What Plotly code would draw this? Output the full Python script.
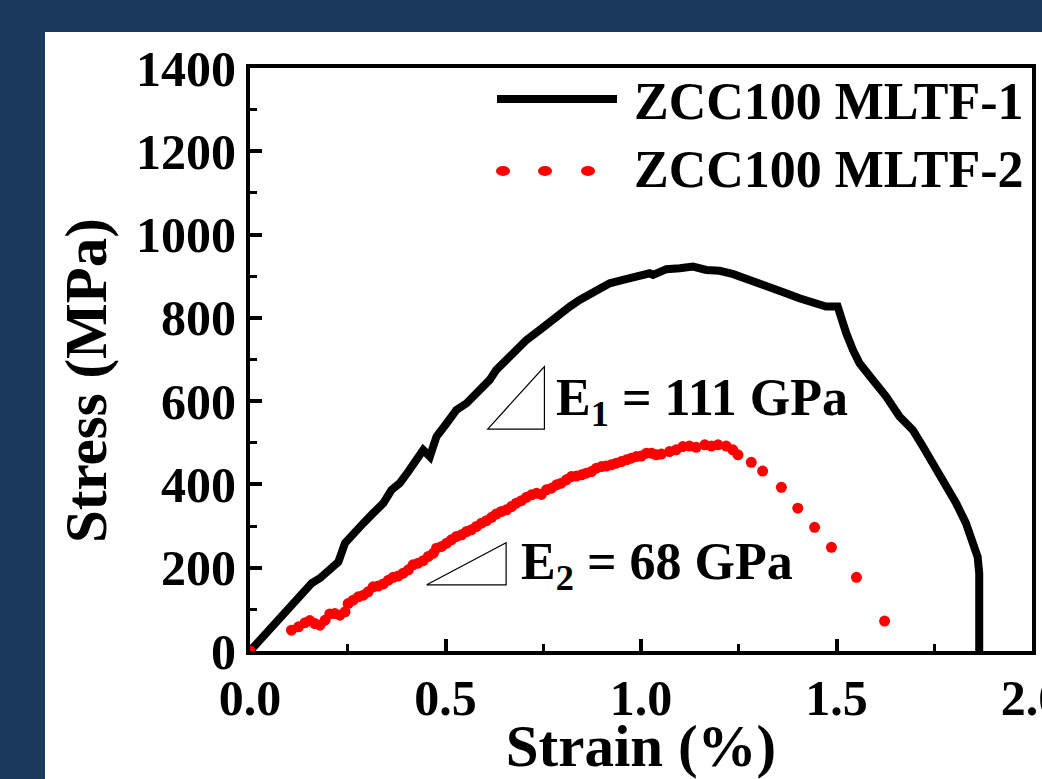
import plotly.graph_objects as go

# ---------------- data ----------------
strain_1 = [0.0, 0.119, 0.136, 0.158, 0.179, 0.204, 0.226, 0.243, 0.264, 0.290, 0.315, 0.341,
            0.362, 0.383, 0.405, 0.426, 0.443, 0.460, 0.477, 0.503, 0.528, 0.554, 0.579, 0.596,
            0.613, 0.630, 0.656, 0.681, 0.707, 0.741, 0.767, 0.792, 0.818, 0.843, 0.886, 0.920,
            0.954, 0.988, 1.022, 1.031, 1.065, 1.099, 1.133, 1.167, 1.201, 1.236, 1.269, 1.303,
            1.337, 1.371, 1.405, 1.439, 1.473, 1.503, 1.508, 1.525, 1.542, 1.559, 1.593, 1.627,
            1.661, 1.695, 1.721, 1.746, 1.780, 1.806, 1.831, 1.848, 1.861, 1.865, 1.865]
stress_1 = [0, 127, 146, 163, 175, 195, 214, 259, 283, 307, 331, 355,
            387, 403, 431, 459, 483, 467, 515, 547, 579, 595, 619, 635,
            651, 675, 699, 723, 747, 771, 791, 807, 827, 843, 867, 883,
            891, 899, 907, 903, 917, 919, 923, 915, 913, 905, 895, 883,
            871, 859, 847, 835, 827, 827, 811, 763, 723, 691, 651, 611,
            563, 531, 491, 451, 403, 355, 307, 267, 226, 187, 0]

strain_2 = [0.0, 0.106, 0.124, 0.141, 0.153, 0.166, 0.179, 0.192, 0.204, 0.217, 0.230, 0.243,
            0.251, 0.264, 0.277, 0.290, 0.302, 0.315, 0.328, 0.341, 0.354, 0.366, 0.379, 0.392,
            0.405, 0.417, 0.430, 0.443, 0.456, 0.469, 0.477, 0.490, 0.503, 0.515, 0.528, 0.541,
            0.554, 0.566, 0.579, 0.592, 0.605, 0.618, 0.630, 0.643, 0.656, 0.669, 0.681, 0.694,
            0.707, 0.720, 0.733, 0.745, 0.758, 0.771, 0.784, 0.796, 0.809, 0.822, 0.835, 0.848,
            0.860, 0.873, 0.886, 0.899, 0.911, 0.924, 0.937, 0.950, 0.963, 0.975, 0.988, 1.001,
            1.014, 1.027, 1.039, 1.052, 1.073, 1.090, 1.107, 1.124, 1.141, 1.163, 1.180, 1.197,
            1.218, 1.235, 1.248, 1.282, 1.311, 1.359, 1.401, 1.444, 1.487, 1.551, 1.623]
stress_2 = [0, 50, 58, 68, 73, 66, 62, 74, 89, 90, 86, 94,
            114, 122, 130, 134, 142, 154, 156, 161, 170, 177, 180, 187,
            195, 207, 211, 217, 227, 235, 247, 251, 259, 267, 275, 279,
            287, 291, 299, 307, 313, 321, 329, 335, 339, 347, 355, 361,
            369, 375, 379, 376, 387, 391, 399, 403, 411, 419, 420, 423,
            427, 431, 439, 443, 444, 447, 451, 455, 459, 463, 467, 468,
            475, 475, 471, 473, 479, 483, 491, 492, 489, 495, 492, 495,
            492, 483, 471, 453, 432, 393, 343, 297, 249, 177, 72]

series_names = ["ZCC100 MLTF-1", "ZCC100 MLTF-2"]
x_tickvals = [0, 0.5, 1.0, 1.5, 2.0]
x_ticktext = ["0.0", "0.5", "1.0", "1.5", "2.0"]
y_tickvals = [0, 200, 400, 600, 800, 1000, 1200, 1400]
x_title = "Strain (%)"
y_title = "Stress (MPa)"
e1_label = "E<sub>1</sub> = 111 GPa"
e2_label = "E<sub>2</sub> = 68 GPa"

# ---------------- styling ----------------
FONT = "Liberation Serif, Times New Roman, serif"
NAVY = "#1c3a5e"

fig = go.Figure()
fig.add_trace(go.Scatter(x=strain_1, y=stress_1, mode="lines", name=series_names[0],
                         line=dict(color="black", width=8), showlegend=False))
fig.add_trace(go.Scatter(x=strain_2, y=stress_2, mode="markers", name=series_names[1],
                         marker=dict(color="#ff0000", size=11, line=dict(width=0)),
                         showlegend=False))

axis_common = dict(showline=True, linewidth=4, linecolor="black", mirror=True,
                   ticks="inside", ticklen=12, tickwidth=4, tickcolor="black",
                   showgrid=False, zeroline=False, ticklabeloverflow="allow",
                   automargin=False,
                   tickfont=dict(family=FONT, size=50, color="black", weight="bold"))

fig.update_xaxes(range=[0, 2], tickvals=x_tickvals, ticktext=x_ticktext,
                 minor=dict(ticks="inside", ticklen=7, tickwidth=3, tickcolor="black",
                            tickvals=[0.25, 0.75, 1.25, 1.75]),
                 title=dict(text=x_title, font=dict(family=FONT, size=59, color="black", weight="bold"),
                            standoff=8),
                 **axis_common)
fig.update_yaxes(range=[0, 1400], tickvals=y_tickvals,
                 minor=dict(ticks="inside", ticklen=7, tickwidth=3, tickcolor="black", dtick=100),
                 **axis_common)

L, R, T, B = 250, 10, 68, 128
W, H = 1042, 779
pw, ph = W - L - R, H - T - B

def px(xpix):
    return (xpix - L) / pw

def py(ypix):
    return (H - B - ypix) / ph

shapes = [
    # white panel behind the chart
    dict(type="rect", xref="paper", yref="paper", x0=px(45), x1=px(1100), y0=py(32), y1=py(820),
         fillcolor="white", line=dict(width=0), layer="below"),
    # legend: black line
    dict(type="line", xref="paper", yref="paper", x0=px(497), x1=px(617), y0=py(99), y1=py(99),
         line=dict(color="black", width=8)),
    # slope triangles (data coordinates)
    dict(type="path", xref="x", yref="y", path="M 0.608 533 L 0.753 533 L 0.753 683 Z",
         line=dict(color="black", width=1.2)),
    dict(type="path", xref="x", yref="y", path="M 0.452 159 L 0.655 159 L 0.655 260 Z",
         line=dict(color="black", width=1.2)),
]
for cx in (503, 545, 588):
    shapes.append(dict(type="circle", xref="paper", yref="paper",
                       x0=px(cx - 7), x1=px(cx + 7), y0=py(171 + 5), y1=py(171 - 5),
                       fillcolor="#ff0000", line=dict(width=0)))

big = dict(family=FONT, size=52, color="black", weight="bold")
annotations = [
    dict(xref="paper", yref="paper", x=px(632), y=py(101), text=series_names[0], showarrow=False,
         xanchor="left", yanchor="middle", font=big),
    dict(xref="paper", yref="paper", x=px(632), y=py(169), text=series_names[1], showarrow=False,
         xanchor="left", yanchor="middle", font=big),
    dict(xref="x", yref="y", x=0.777, y=598, text=e1_label, showarrow=False,
         xanchor="left", yanchor="middle", font=big),
    dict(xref="x", yref="y", x=0.687, y=206, text=e2_label, showarrow=False,
         xanchor="left", yanchor="middle", font=big),
    dict(xref="paper", yref="paper", x=px(86), y=py(381), text=y_title, showarrow=False,
         textangle=-90, xanchor="center", yanchor="middle",
         font=dict(family=FONT, size=59, color="black", weight="bold")),
]

fig.update_layout(width=W, height=H, autosize=False,
                  margin=dict(l=L, r=R, t=T, b=B, pad=0, autoexpand=False),
                  paper_bgcolor=NAVY, plot_bgcolor="white",
                  shapes=shapes, annotations=annotations, showlegend=False)

fig.write_html("out.html")
